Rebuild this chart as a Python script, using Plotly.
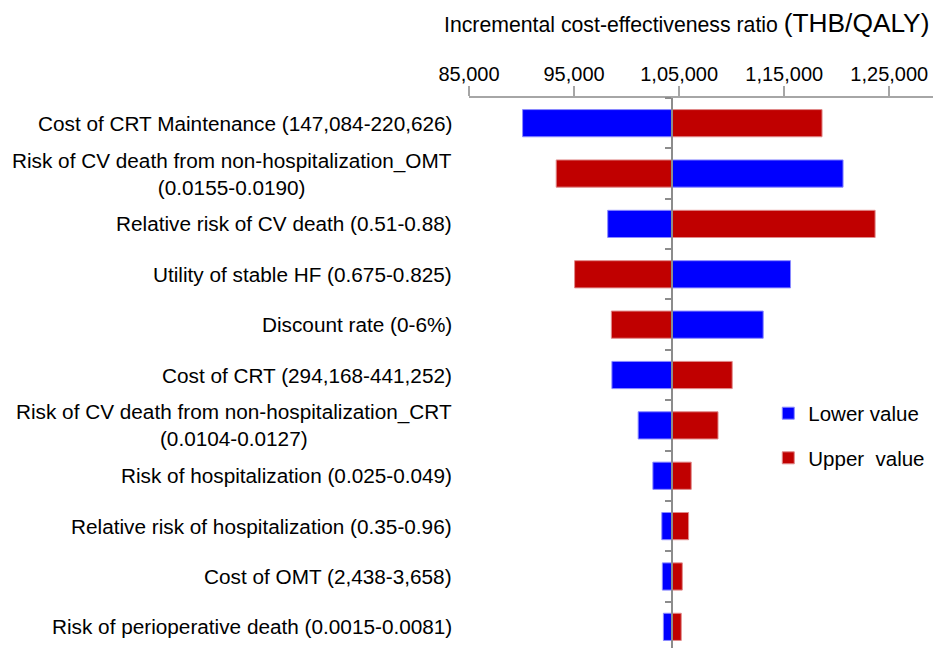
import plotly.graph_objects as go

categories = [
    "Cost of CRT Maintenance (147,084-220,626)",
    "Risk of CV death from non-hospitalization_OMT<br>(0.0155-0.0190)",
    "Relative risk of CV death (0.51-0.88)",
    "Utility of stable HF (0.675-0.825)",
    "Discount rate (0-6%)",
    "Cost of CRT (294,168-441,252)",
    "Risk of CV death from non-hospitalization_CRT<br>(0.0104-0.0127)",
    "Risk of hospitalization (0.025-0.049)",
    "Relative risk of hospitalization (0.35-0.96)",
    "Cost of OMT (2,438-3,658)",
    "Risk of perioperative death (0.0015-0.0081)",
]
base_icer = 104330
lower_icer = [90100, 120600, 98200, 115600, 113000, 98600, 101100, 102500, 103350, 103400, 103500]
upper_icer = [118600, 93300, 123650, 95050, 98550, 110050, 108700, 106150, 105900, 105300, 105200]
tick_vals = [85000, 95000, 105000, 115000, 125000]
tick_text = ["85,000", "95,000", "1,05,000", "1,15,000", "1,25,000"]
x_min, x_max = 85000, 129160

FONT = "Liberation Sans, Arial, sans-serif"

fig = go.Figure()
fig.add_trace(go.Bar(
    y=categories, x=[v - base_icer for v in lower_icer], base=base_icer,
    orientation="h", name="Lower value", width=0.54, legendgroup="a",
    marker=dict(color="#0000FF", line=dict(color="#8a8aff", width=1)),
))
fig.add_trace(go.Bar(
    y=categories, x=[v - base_icer for v in upper_icer], base=base_icer,
    orientation="h", name="Upper\u00a0 value", width=0.54, legendgroup="b",
    marker=dict(color="#C00000", line=dict(color="#e08a8a", width=1)),
))

annotations = []
for c in categories:
    annotations.append(dict(
        text=c, xref="paper", x=-0.0325, xanchor="right", align="center",
        yref="y", y=c, showarrow=False,
        font=dict(family=FONT, size=20.75, color="black"),
    ))
annotations.append(dict(
    text="Incremental cost-effectiveness ratio <span style='font-size:26.3px'>(THB/QALY)</span>",
    xref="paper", x=1.0, xshift=-2, xanchor="right", yref="paper", y=1.0, yshift=75,
    yanchor="middle", showarrow=False,
    font=dict(family=FONT, size=21.25, color="black"),
))

fig.update_layout(
    width=933, height=648,
    margin=dict(l=469, r=0, t=98, b=0, pad=0),
    paper_bgcolor="white", plot_bgcolor="white",
    barmode="overlay",
    font=dict(family=FONT, color="black"),
    annotations=annotations,
    legend=dict(
        x=0.645, y=0.463, xanchor="left", yanchor="top",
        font=dict(family=FONT, size=20.5, color="black"),
        tracegroupgap=15, bgcolor="rgba(0,0,0,0)",
    ),
    xaxis=dict(
        side="top", range=[x_min, x_max], tickvals=tick_vals, ticktext=tick_text,
        ticks="outside", ticklen=10, tickcolor="#a6a6a6", tickwidth=1.5,
        ticklabelstandoff=-3,
        showline=True, linecolor="#a6a6a6", linewidth=1.5,
        showgrid=False, zeroline=False,
        tickfont=dict(family=FONT, size=20, color="black"),
    ),
    yaxis=dict(
        type="category", categoryorder="array", categoryarray=categories,
        range=[10.42, -0.5], showticklabels=False,
        ticks="outside", tickson="boundaries", ticklen=6, tickcolor="#8c8c8c", tickwidth=1.5,
        showline=True, linecolor="#8c8c8c", linewidth=1.5,
        anchor="free", position=(base_icer - x_min) / (x_max - x_min),
        showgrid=False, zeroline=False,
    ),
)

fig.write_html(
    "out.html",
    config={"displayModeBar": False},
    post_script="document.body.style.margin='0';document.body.style.overflow='hidden';",
)
